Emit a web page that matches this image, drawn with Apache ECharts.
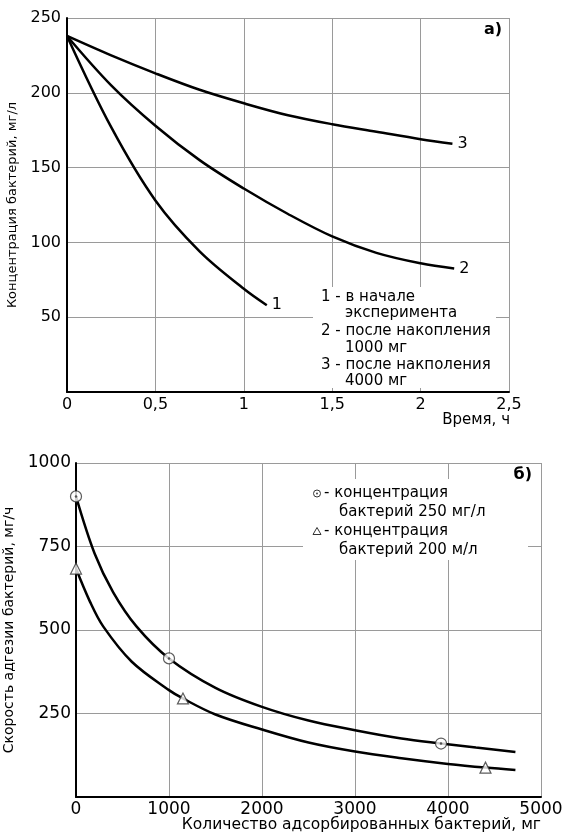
<!DOCTYPE html>
<html>
<head>
<meta charset="utf-8">
<script src="https://cdn.jsdelivr.net/npm/echarts@6/dist/echarts.min.js"></script>
<style>html,body{margin:0;padding:0;background:#fff;}#c{width:563px;height:834px;}</style>
</head>
<body>
<div id="c"></div>
<script>
// ---- Chart а): concentration vs time ----
const time1 = [0, 0.25, 0.5, 0.75, 1.0, 1.13];
const conc1 = [238, 177, 128, 94, 69, 58];
const time2 = [0, 0.25, 0.5, 0.75, 1.0, 1.25, 1.5, 1.75, 2.0, 2.19];
const conc2 = [238, 205, 178, 155, 136, 119, 104, 93, 86, 82.5];
const time3 = [0, 0.25, 0.5, 0.75, 1.0, 1.25, 1.5, 1.75, 2.0, 2.18];
const conc3 = [238, 225, 213, 202, 193, 185, 179, 174, 169, 166];
const curveNamesA = ['1', '2', '3'];
const legendLinesA = ['1 - в начале', 'эксперимента', '2 - после накопления', '1000 мг', '3 - после накполения', '4000 мг'];

// ---- Chart б): adhesion rate vs adsorbed amount ----
const adsorbedA = [0, 200, 400, 650, 1000, 1500, 2000, 2500, 3000, 3500, 3925, 4300, 4725];
const rateA = [900, 729, 613, 511, 415, 327, 270, 229, 200, 175, 160, 148, 135];
const markIdxA = [0, 4, 10];
const adsorbedB = [0, 150, 294, 600, 1000, 1150, 1500, 2000, 2500, 3000, 3500, 4000, 4403, 4725];
const rateB = [684, 585, 510, 405, 320, 295, 247, 202, 163, 136, 116, 99, 88, 81];
const markIdxB = [0, 5, 12];
const legendLinesB = ['- концентрация', 'бактерий 250 мг/л', '- концентрация', 'бактерий 200 м/л'];

const F = '"DejaVu Sans", sans-serif';
const zip = (xs, ys) => xs.map((x, i) => [x, ys[i]]);
const pick = (xs, ys, idx) => idx.map(i => [xs[i], ys[i]]);

const gridLine = { show: true, lineStyle: { color: '#9a9a9a', width: 1 } };
const axisLine = { show: true, lineStyle: { color: '#000', width: 2 } };

const chart = echarts.init(document.getElementById('c'), null, { renderer: 'canvas' });

const lineStyle = { color: '#000', width: 2.5 };

const option = {
  animation: false,
  backgroundColor: '#fff',
  grid: [
    { left: 67, top: 18, width: 442, height: 374, containLabel: false, outerBoundsMode: 'none' },
    { left: 76, top: 463, width: 465, height: 334, containLabel: false, outerBoundsMode: 'none' }
  ],
  xAxis: [
    {
      gridIndex: 0, type: 'value', min: 0, max: 2.5, interval: 0.5,
      axisLine: axisLine, axisTick: { show: false }, splitLine: gridLine,
      axisLabel: { color: '#000', fontFamily: F, fontSize: 16, margin: 5,
        formatter: v => String(v).replace('.', ',') }
    },
    {
      gridIndex: 1, type: 'value', min: 0, max: 5000, interval: 1000,
      axisLine: axisLine, axisTick: { show: false }, splitLine: gridLine,
      axisLabel: { color: '#000', fontFamily: F, fontSize: 17, margin: 4, formatter: v => String(v) }
    }
  ],
  yAxis: [
    {
      gridIndex: 0, type: 'value', min: 0, max: 250, interval: 50,
      axisLine: axisLine, axisTick: { show: false }, splitLine: gridLine,
      axisLabel: { color: '#000', fontFamily: F, fontSize: 16, margin: 6, showMinLabel: false },
      name: 'Концентрация бактерий, мг/л', nameLocation: 'middle', nameGap: 42,
      nameTextStyle: { color: '#000', fontFamily: F, fontSize: 13 }
    },
    {
      gridIndex: 1, type: 'value', min: 0, max: 1000, interval: 250,
      axisLine: axisLine, axisTick: { show: false }, splitLine: gridLine,
      axisLabel: { color: '#000', fontFamily: F, fontSize: 17, margin: 5, showMinLabel: false, formatter: v => String(v) },
      name: 'Скорость адгезии бактерий, мг/ч', nameLocation: 'middle', nameGap: 44,
      nameTextStyle: { color: '#000', fontFamily: F, fontSize: 14 }
    }
  ],
  series: [
    ...[[time1, conc1], [time2, conc2], [time3, conc3]].map((d, k) => ({
      type: 'line', name: curveNamesA[k], xAxisIndex: 0, yAxisIndex: 0,
      data: zip(d[0], d[1]), smooth: 0.35, showSymbol: false,
      lineStyle: lineStyle, z: 5,
      endLabel: { show: true, formatter: p => p.seriesName, color: '#000',
        fontFamily: F, fontSize: 16, distance: 5 }
    })),
    {
      type: 'line', xAxisIndex: 1, yAxisIndex: 1, data: zip(adsorbedA, rateA),
      smooth: 0.35, showSymbol: false, lineStyle: lineStyle, z: 5
    },
    {
      type: 'line', xAxisIndex: 1, yAxisIndex: 1, data: zip(adsorbedB, rateB),
      smooth: 0.35, showSymbol: false, lineStyle: lineStyle, z: 5
    },
    {
      type: 'scatter', xAxisIndex: 1, yAxisIndex: 1, data: pick(adsorbedA, rateA, markIdxA),
      symbol: 'circle', symbolSize: 11, z: 8,
      itemStyle: { color: '#fff', borderColor: '#333', borderWidth: 1.2 }
    },
    {
      type: 'scatter', xAxisIndex: 1, yAxisIndex: 1, data: pick(adsorbedA, rateA, markIdxA),
      symbol: 'circle', symbolSize: 2.5, z: 9, itemStyle: { color: '#333' }
    },
    {
      type: 'scatter', xAxisIndex: 1, yAxisIndex: 1, data: pick(adsorbedB, rateB, markIdxB),
      symbol: 'triangle', symbolSize: 11, z: 8,
      itemStyle: { color: '#fff', borderColor: '#333', borderWidth: 1.2 }
    }
  ],
  graphic: [
    { type: 'text', right: 563 - 502, top: 22, z: 20,
      style: { text: 'а)', fill: '#000', font: 'bold 16px ' + F } },
    { type: 'text', right: 563 - 532, top: 467, z: 20,
      style: { text: 'б)', fill: '#000', font: 'bold 16px ' + F } },
    { type: 'text', right: 563 - 510, top: 413, z: 20,
      style: { text: 'Время, ч', fill: '#000', font: '15px ' + F } },
    { type: 'text', right: 563 - 541, top: 817, z: 20,
      style: { text: 'Количество адсорбированных бактерий, мг', fill: '#000', font: '15.5px ' + F } },
    { type: 'rect', shape: { x: 313, y: 287, width: 183, height: 101 }, style: { fill: '#fff' }, z: 15 },
    ...legendLinesA.map((t, i) => ({
      type: 'text', z: 20, x: (i % 2 === 0) ? 321 : 345, y: [297, 313.5, 331, 348, 365, 381][i],
      style: { text: t, fill: '#000', font: '15px ' + F, verticalAlign: 'middle' }
    })),
    { type: 'rect', shape: { x: 303, y: 479, width: 225, height: 81 }, style: { fill: '#fff' }, z: 15 },
    { type: 'circle', shape: { cx: 317, cy: 493.5, r: 3.5 }, style: { fill: '#fff', stroke: '#333', lineWidth: 1 }, z: 20 },
    { type: 'circle', shape: { cx: 317, cy: 493.5, r: 0.9 }, style: { fill: '#333' }, z: 21 },
    { type: 'polygon', shape: { points: [[317, 527.5], [313, 534.5], [321, 534.5]] }, style: { fill: '#fff', stroke: '#333', lineWidth: 1 }, z: 20 },
    ...legendLinesB.map((t, i) => ({
      type: 'text', z: 20, x: (i % 2 === 0) ? 324 : 339, y: [493, 512, 531.5, 550][i],
      style: { text: t, fill: '#000', font: '15px ' + F, verticalAlign: 'middle' }
    }))
  ]
};
chart.setOption(option);
</script>
</body>
</html>
